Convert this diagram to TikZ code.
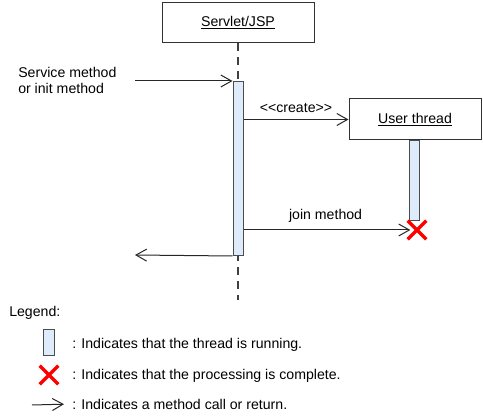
\documentclass[tikz,border=0pt]{standalone}
\usepackage{fontspec}
\setmainfont{Liberation Sans}
\usetikzlibrary{arrows.meta, shapes.misc}

\definecolor{actfill}{RGB}{221,235,250}

\begin{document}
\begin{tikzpicture}[
        x=0.75pt, y=-0.75pt,
        font=\fontsize{10.6}{12}\selectfont,
        obj/.style={draw=black!80, line width=0.75pt, fill=white, minimum width=114pt, minimum height=30pt, inner sep=0pt},
        act/.style={draw=black!70, line width=0.75pt, fill=actfill, minimum width=7.5pt, inner sep=0pt},
        done/.style={cross out, draw=red, line width=2.6pt, minimum size=14pt, inner sep=0pt, outer sep=0pt},
        msg/.style={draw=black!85, line width=0.75pt, -{Straight Barb[length=8pt, width=9pt]}},
        lbl/.style={inner sep=0pt}]
    \useasboundingbox (0,0) rectangle (483,420);

    % ---------- objects and lifelines ----------
    \node[obj] (servlet) at (238,23) {\underline{Servlet/JSP}};
    \node[obj, minimum width=99pt, minimum height=30.75pt] (uthread) at (415,119.5) {\underline{User thread}};
    \coordinate (lifeend) at (238,300);
    \draw[black!75, line width=1.3pt, dash pattern=on 6pt off 4.5pt] (servlet) -- (lifeend);

    \node[act, anchor=north, minimum height=130.5pt] (sact) at (238,81) {};
    \node[act, anchor=north, minimum height=60pt] (uact) at (414,140) {};
    \node[done] (cross) at (417,230) {};

    % ---------- messages ----------
    \coordinate (callin) at (135,81);
    \coordinate (retout) at (135,255);
    \node[lbl, anchor=north west, align=left] (svclbl) at (18,67) {Service method\\or init method};

    \draw[msg] (callin) -- (sact.north west);
    \draw[msg] (sact.east |- uthread.west) -- node[lbl, above=5pt] (crlbl) {<\kern0pt<create>\kern0pt>} (uthread.west);
    \draw[msg, shorten >=-2pt] (sact.east |- cross) -- node[lbl, above=5pt] (joinlbl) {join method} (cross);
    \draw[msg] (sact.south west) -- (retout);

    % ---------- legend ----------
    \node[lbl, anchor=west] (legend) at (9,313) {Legend:};

    \node[act, minimum width=8.25pt, minimum height=19.5pt] (legact) at (48.5,343) {};
    \node[lbl, anchor=west] (legacttxt) at (72,345) {: Indicates that the thread is running.};

    \node[done] (legdone) at (49,375) {};
    \node[lbl, anchor=west] (legdonetxt) at (72,376) {: Indicates that the processing is complete.};

    \coordinate (legfrom) at (32,405);
    \node[lbl, anchor=west] (legmsgtxt) at (72,404) {: Indicates a method call or return.};
    \draw[msg, shorten >=6pt] (legfrom) -- (legmsgtxt.west);
\end{tikzpicture}
\end{document}
